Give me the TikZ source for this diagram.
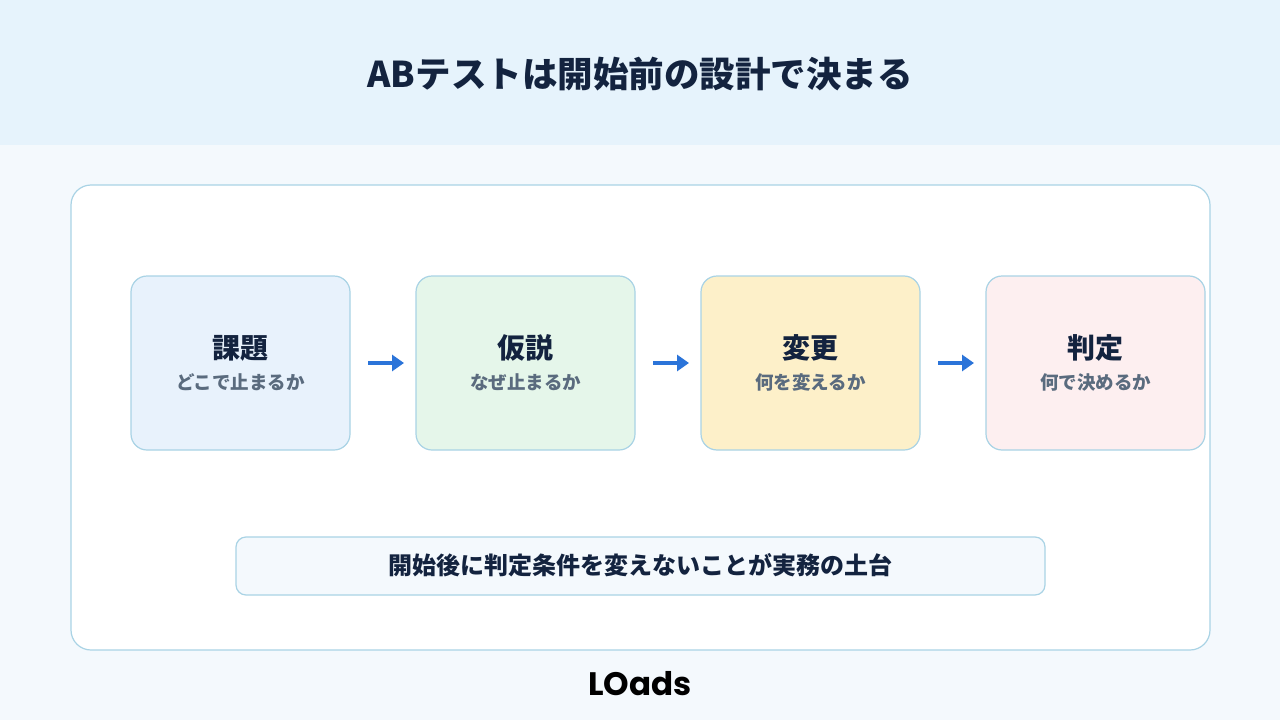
\documentclass[tikz,border=0pt]{standalone}
\usepackage{fontspec}
\setmainfont{Noto Sans CJK JP}
\newfontfamily\logofont{Poppins}
\usetikzlibrary{arrows.meta}
\definecolor{hdr}{HTML}{E6F3FC}
\definecolor{bg}{HTML}{F4F9FD}
\definecolor{bd}{HTML}{A9D3E5}
\definecolor{ink}{HTML}{13233F}
\definecolor{sub}{HTML}{5A6B7E}
\definecolor{arr}{HTML}{2B74D9}
\definecolor{cA}{HTML}{E8F2FC}
\definecolor{cB}{HTML}{E5F6EA}
\definecolor{cC}{HTML}{FDF0C9}
\definecolor{cD}{HTML}{FDEFF0}
\begin{document}
\begin{tikzpicture}[x=1pt,y=-1pt,
 box/.style={draw=bd,line width=1.2pt,rounded corners=16pt},
 ttl/.style={font=\bfseries\fontsize{28}{32}\selectfont,text=ink},
 st/.style={font=\bfseries\fontsize{18.5}{22}\selectfont,text=sub},
 ar/.style={draw=arr,line width=3.5pt,-{Triangle[length=12pt,width=16pt]}}]
\useasboundingbox (0,0) rectangle (1280,720);
\fill[bg] (0,0) rectangle (1280,720);
\fill[hdr] (0,0) rectangle (1280,145);
\node[font=\bfseries\fontsize{35.5}{40}\selectfont,text=ink] (title) at (640,74) {ABテストは開始前の設計で決まる};
\draw[box,fill=white,rounded corners=20pt] (71,185) rectangle (1210,650);
\foreach \x/\c/\n/\t/\s in {131/cA/a/課題/どこで止まるか,416/cB/b/仮説/なぜ止まるか,701/cC/c/変更/何を変えるか,986/cD/d/判定/何で決めるか}{
 \draw[box,fill=\c] (\x,276) rectangle ++(219,174);
 \coordinate (\n) at (\x+109.5,363);
 \coordinate (\n L) at (\x,363);
 \coordinate (\n R) at (\x+219,363);
 \node[ttl] (\n t) at (\x+109.5,348) {\t};
 \node[st] (\n s) at (\x+109.5,382) {\s};
}
\draw[ar] ([xshift=18pt]aR) -- ([xshift=-12pt]bL);
\draw[ar] ([xshift=18pt]bR) -- ([xshift=-12pt]cL);
\draw[ar] ([xshift=18pt]cR) -- ([xshift=-12pt]dL);
\draw[box,fill=bg,rounded corners=10pt] (236,537) rectangle (1045,595);
\node[font=\bfseries\fontsize{24}{28}\selectfont,text=ink] (note) at (640,565) {開始後に判定条件を変えないことが実務の土台};
\node[font=\logofont\bfseries\fontsize{32.5}{36}\selectfont,text=black] (logo) at (640,684) {LOads};
\end{tikzpicture}
\end{document}
